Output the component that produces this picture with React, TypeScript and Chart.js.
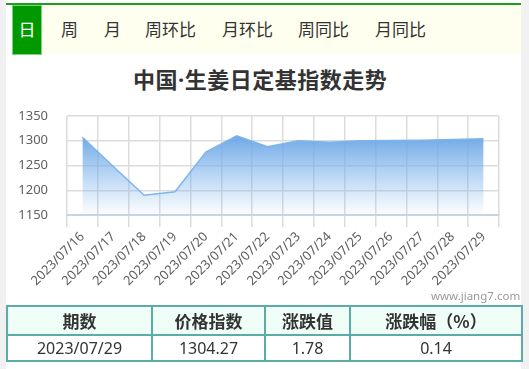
import React, { useEffect, useRef } from "react";
import { Chart, registerables } from "chart.js";

Chart.register(...registerables);

const categories = [
  "2023/07/16", "2023/07/17", "2023/07/18", "2023/07/19", "2023/07/20",
  "2023/07/21", "2023/07/22", "2023/07/23", "2023/07/24", "2023/07/25",
  "2023/07/26", "2023/07/27", "2023/07/28", "2023/07/29",
];
const indexValues = [
  1307, 1248, 1190, 1197, 1277, 1310, 1288, 1300, 1297, 1300, 1300.5, 1301, 1302.49, 1304.27,
];
const yTicks = [1150, 1200, 1250, 1300, 1350];
const tabs = ["日", "周", "月", "周环比", "月环比", "周同比", "月同比"];
const tabLefts = [12, 61, 104, 145, 222, 298, 375];
const tableHeaders = ["期数", "价格指数", "涨跌值", "涨跌幅（%）"];
const tableRow = ["2023/07/29", "1304.27", "1.78", "0.14"];
const colWidths = [145, 113, 85, 172];

const FONT = '"Noto Sans", "Noto Sans CJK SC", sans-serif';
const CJK = '"Noto Sans CJK SC", "Noto Sans", sans-serif';

function ChartCanvas() {
  const ref = useRef<HTMLCanvasElement>(null);
  useEffect(() => {
    const canvas = ref.current!;
    const ctx = canvas.getContext("2d")!;
    const chart = new Chart(ctx, {
      type: "line",
      data: {
        labels: categories,
        datasets: [
          {
            data: indexValues,
            borderColor: "#7cb5ec",
            borderWidth: 1.5,
            pointRadius: 0,
            tension: 0,
            fill: "start",
            backgroundColor: (c: any) => {
              const area = c.chart.chartArea;
              if (!area) return "rgba(124,181,236,0.5)";
              const g = c.chart.ctx.createLinearGradient(0, area.top + 18, 0, area.bottom);
              g.addColorStop(0, "rgba(108,166,230,1)");
              g.addColorStop(1, "rgba(124,181,236,0.02)");
              return g;
            },
          },
        ],
      },
      options: {
        animation: false,
        responsive: false,
        maintainAspectRatio: false,
        layout: { padding: { top: 21, right: 22, left: 0, bottom: 0 } },
        plugins: { legend: { display: false }, tooltip: { enabled: false } },
        scales: {
          x: {
            offset: true,
            grid: { offset: true, color: "#dcdcdc", lineWidth: 1.5, tickLength: 12, drawTicks: true },
            border: { display: true, color: "#c8d4e4", width: 2 },
            ticks: {
              minRotation: 45,
              maxRotation: 45,
              autoSkip: false,
              padding: 2,
              color: "#606060",
              font: { family: FONT, size: 13 },
            },
            afterFit: (s: any) => {
              s.height = 80;
            },
          },
          y: {
            min: yTicks[0],
            max: yTicks[yTicks.length - 1],
            afterBuildTicks: (s: any) => {
              s.ticks = yTicks.map((v) => ({ value: v }));
            },
            grid: {
              color: "#dcdcdc",
              lineWidth: 1.5,
              drawTicks: true,
              tickLength: 18,
              tickColor: "rgba(0,0,0,0)",
            },
            border: { display: false },
            ticks: {
              padding: 1,
              color: "#606060",
              font: { family: FONT, size: 13 },
              callback: (v: any) => String(v),
            },
            afterFit: (s: any) => {
              s.width = 61;
            },
          },
        },
      },
    } as any);
    return () => chart.destroy();
  }, []);
  return (
    <canvas
      ref={ref}
      width={515}
      height={200}
      style={{ position: "absolute", left: 6, top: 95, width: 515, height: 200 }}
    />
  );
}

export default function App() {
  useEffect(() => {
    document.body.style.margin = "0";
  }, []);
  return (
    <div
      style={{
        position: "relative",
        width: 529,
        height: 369,
        background: "#f1f1f1",
        overflow: "hidden",
        fontFamily: CJK,
      }}
    >
      <div style={{ position: "absolute", left: 6, top: 0, width: 515, height: 369, background: "#fff" }} />
      <div style={{ position: "absolute", left: 6, top: 3, width: 515, height: 2, background: "#1e9e1e" }} />
      <div style={{ position: "absolute", left: 12, top: 5, width: 509, height: 49, background: "#fffff0" }} />
      <div
        style={{
          position: "absolute",
          left: 12,
          top: 5,
          width: 30,
          height: 50,
          background: "#009a00",
          boxSizing: "border-box",
          border: "1px solid #7fd07f",
        }}
      />
      {tabs.map((t, i) => (
        <span
          key={t}
          style={{
            position: "absolute",
            left: i === 0 ? 12 : tabLefts[i],
            width: i === 0 ? 30 : undefined,
            textAlign: i === 0 ? "center" : undefined,
            top: 17,
            fontSize: 17,
            lineHeight: "24px",
            color: i === 0 ? "#fff" : "#333",
            whiteSpace: "nowrap",
          }}
        >
          {t}
        </span>
      ))}
      <div
        style={{
          position: "absolute",
          left: 133,
          top: 63,
          fontSize: 22,
          fontWeight: "bold",
          lineHeight: "30px",
          color: "#333",
          whiteSpace: "nowrap",
          letterSpacing: 0.5,
        }}
      >
        中国<span style={{ fontFamily: FONT }}>·</span>生姜日定基指数走势
      </div>
      <ChartCanvas />
      <div
        style={{
          position: "absolute",
          left: 431,
          top: 288,
          fontSize: 11.5,
          lineHeight: "16px",
          color: "#999",
          fontFamily: FONT,
        }}
      >
        www.jiang7.com
      </div>
      <table
        style={{
          position: "absolute",
          left: 6,
          top: 305,
          width: 515,
          borderCollapse: "collapse",
          tableLayout: "fixed",
          color: "#333",
        }}
      >
        <colgroup>
          {colWidths.map((w, i) => (
            <col key={i} style={{ width: w }} />
          ))}
        </colgroup>
        <tbody>
          <tr style={{ background: "#effff8", height: 29 }}>
            {tableHeaders.map((h) => (
              <td
                key={h}
                style={{
                  border: "2px solid #5aaca4",
                  textAlign: "center",
                  fontWeight: "bold",
                  fontSize: 17,
                  padding: 0,
                  lineHeight: "25px",
                }}
              >
                {h}
              </td>
            ))}
          </tr>
          <tr style={{ height: 26 }}>
            {tableRow.map((v, i) => (
              <td
                key={i}
                style={{
                  border: "2px solid #5aaca4",
                  textAlign: "center",
                  padding: 0,
                  fontSize: 16,
                  lineHeight: "22px",
                  fontFamily: FONT,
                }}
              >
                {v}
              </td>
            ))}
          </tr>
        </tbody>
      </table>
    </div>
  );
}
